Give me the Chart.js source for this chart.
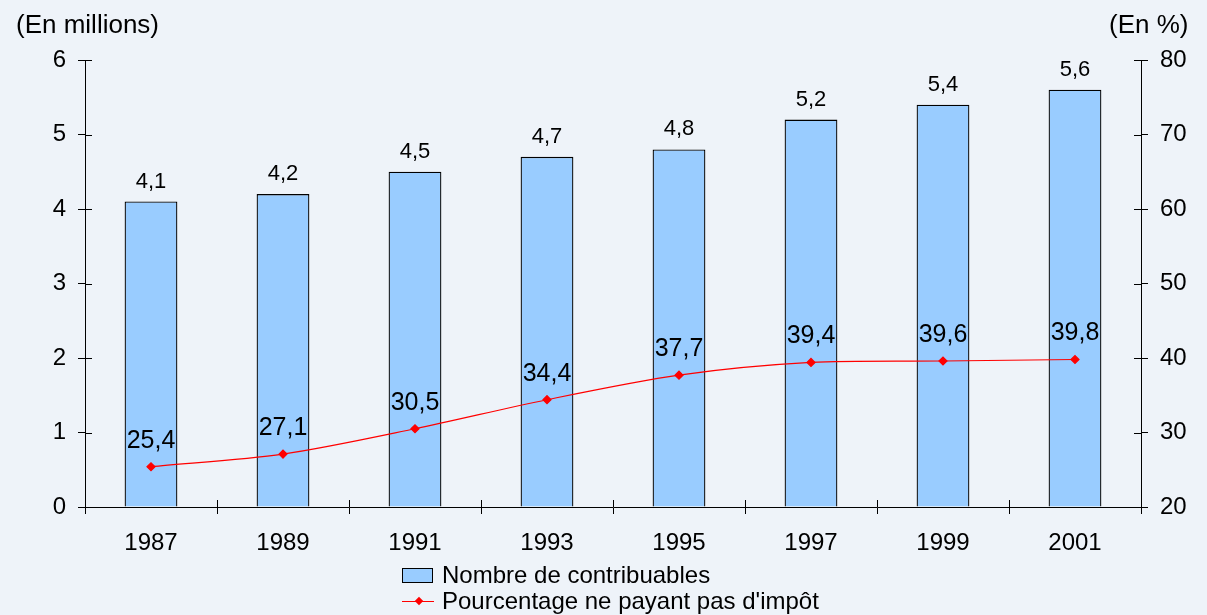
<!DOCTYPE html>
<html>
<head>
<meta charset="utf-8">
<script src="https://cdn.jsdelivr.net/npm/chart.js@4"></script>
<style>
  body { margin: 0; background: #EEF3F9; font-family: "Liberation Sans", Arial, sans-serif; }
  #wrap { position: relative; width: 1207px; height: 615px; }
  .ttl { position: absolute; font-size: 26px; line-height: 26px; color: #000; white-space: nowrap; }
  #legend { position: absolute; left: 402px; top: 562px; font-size: 24px; line-height: 26px; white-space: nowrap; }
  .item { display: flex; align-items: center; height: 26px; }
  .box { width: 31px; height: 15px; background: #99CCFF; border: 1px solid #000; margin-right: 9px; box-sizing: border-box; }
  .ln { width: 32px; height: 16px; margin-right: 8px; position: relative; }
  .ln::before { content: ""; position: absolute; left: 0; right: 0; top: 8px; height: 1px; background: #FF0000; }
  .ln::after { content: ""; position: absolute; left: 14px; top: 5px; width: 6px; height: 6px; background: #FF0000; transform: rotate(45deg); }
</style>
</head>
<body>
<div id="wrap">
  <canvas id="chart" width="1207" height="615"></canvas>
  <div class="ttl" style="left:16px; top:11px;">(En millions)</div>
  <div class="ttl" style="left:1109px; top:11px;">(En %)</div>
  <div id="legend">
    <div class="item"><span class="box"></span>Nombre de contribuables</div>
    <div class="item"><span class="ln"></span>Pourcentage ne payant pas d'impôt</div>
  </div>
</div>
<script>
const years = ['1987', '1989', '1991', '1993', '1995', '1997', '1999', '2001']
const contribuables = [4.1, 4.2, 4.5, 4.7, 4.8, 5.2, 5.4, 5.6]
const pourcentage = [25.4, 27.1, 30.5, 34.4, 37.7, 39.4, 39.6, 39.8]

const FONT = '"Liberation Sans", Arial, sans-serif'
const fmt = v => v.toFixed(1).replace('.', ',')

// labels de valeurs + petites graduations vers l'intérieur
const extras = {
  id: 'extras',
  afterDatasetsDraw(chart) {
    const ctx = chart.ctx
    ctx.save()
    ctx.fillStyle = '#000'
    ctx.textAlign = 'center'
    ctx.textBaseline = 'alphabetic'
    ctx.font = '22px ' + FONT
    chart.getDatasetMeta(0).data.forEach((bar, i) => {
      ctx.fillText(fmt(contribuables[i]), bar.x, bar.y - 14)
    })
    ctx.font = '25px ' + FONT
    chart.getDatasetMeta(1).data.forEach((pt, i) => {
      ctx.fillText(fmt(pourcentage[i]), pt.x, pt.y - 19)
    })

    ctx.strokeStyle = '#000'
    ctx.lineWidth = 1
    const { x, y, y1 } = chart.scales
    ctx.beginPath()
    y.ticks.forEach((t, i) => {
      const py = Math.round(y.getPixelForTick(i)) + 0.5
      ctx.moveTo(y.right, py); ctx.lineTo(y.right + 7, py)
    })
    y1.ticks.forEach((t, i) => {
      const py = Math.round(y1.getPixelForTick(i)) + 0.5
      ctx.moveTo(y1.left, py); ctx.lineTo(y1.left - 7, py)
    })
    for (let i = 0; i <= years.length; i++) {
      const px = Math.round(chart.chartArea.left + i * (chart.chartArea.width / years.length)) + 0.5
      ctx.moveTo(px, x.top); ctx.lineTo(px, x.top - 7)
    }
    ctx.stroke()
    ctx.restore()
  }
}

new Chart(document.getElementById('chart'), {
  data: {
    labels: years,
    datasets: [
      {
        type: 'bar',
        label: 'Nombre de contribuables',
        data: contribuables,
        backgroundColor: '#99CCFF',
        borderColor: '#000',
        borderWidth: 1.3,
        categoryPercentage: 1,
        barPercentage: 0.4,
        yAxisID: 'y',
        order: 2
      },
      {
        type: 'line',
        label: "Pourcentage ne payant pas d'impôt",
        data: pourcentage,
        borderColor: '#FF0000',
        backgroundColor: '#FF0000',
        borderWidth: 1.2,
        pointStyle: 'rectRot',
        pointRadius: 4,
        tension: 0.3,
        yAxisID: 'y1',
        order: 1
      }
    ]
  },
  options: {
    responsive: false,
    animation: false,
    layout: { padding: { top: 60, left: 0, right: 0, bottom: 0 } },
    plugins: { legend: { display: false }, tooltip: { enabled: false } },
    scales: {
      x: {
        offset: true,
        grid: { display: true, offset: true, drawOnChartArea: false, color: '#000', tickLength: 7 },
        border: { color: '#000' },
        ticks: { color: '#000', padding: 15, font: { size: 24, family: FONT } },
        afterFit: s => { s.height = 108 }
      },
      y: {
        position: 'left',
        min: 0, max: 6,
        ticks: { stepSize: 1, color: '#000', padding: 12, font: { size: 24, family: FONT } },
        grid: { drawOnChartArea: false, color: '#000', tickLength: 7 },
        border: { color: '#000' },
        afterFit: s => { s.width = 85 }
      },
      y1: {
        position: 'right',
        min: 20, max: 80,
        ticks: { stepSize: 10, color: '#000', padding: 12, font: { size: 24, family: FONT } },
        grid: { drawOnChartArea: false, color: '#000', tickLength: 7 },
        border: { color: '#000' },
        afterFit: s => { s.width = 66 }
      }
    }
  },
  plugins: [extras]
})
</script>
</body>
</html>
